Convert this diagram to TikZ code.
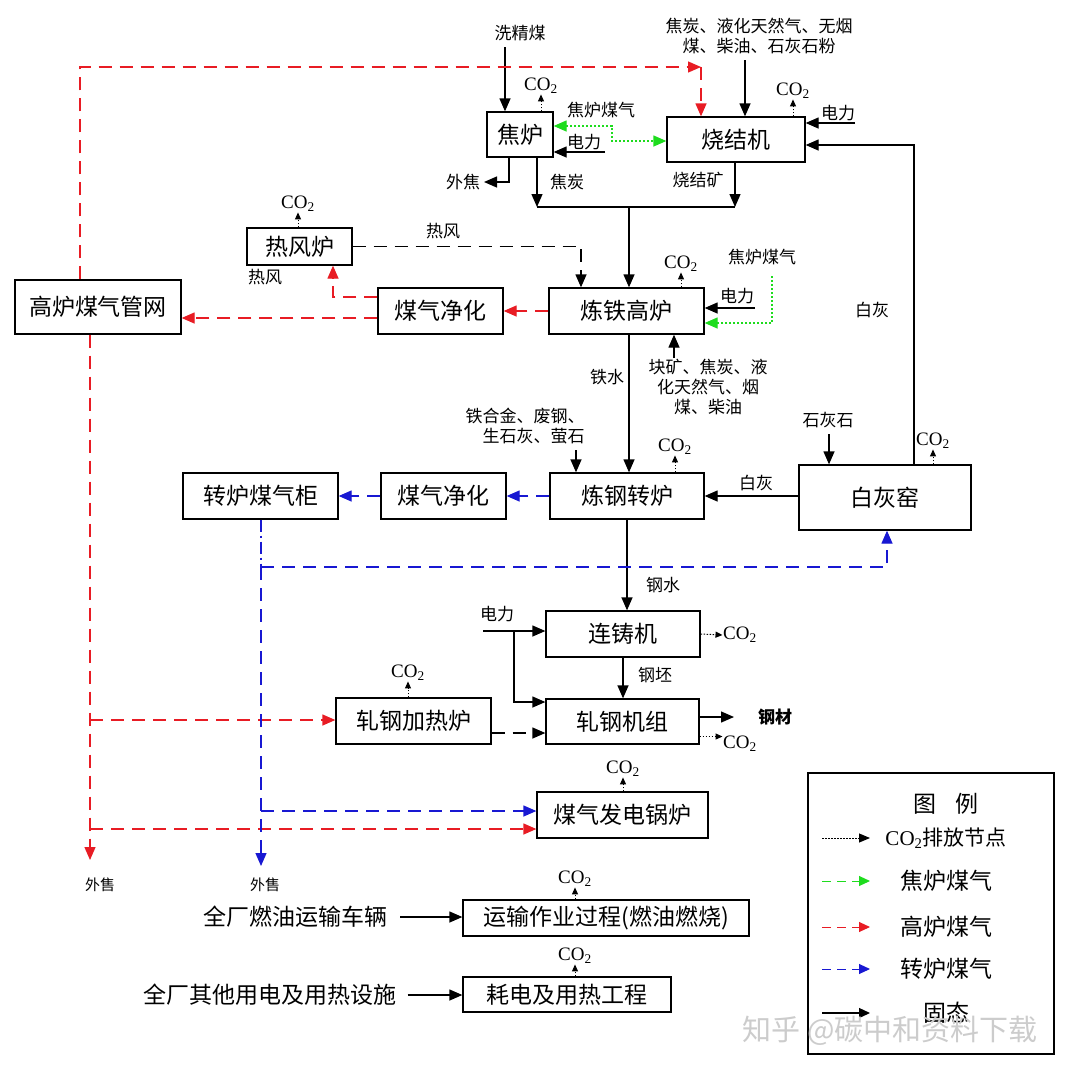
\documentclass[tikz,border=0pt]{standalone}
\usepackage{fontspec}
\setmainfont{Liberation Serif}
\newfontfamily\cjk{Noto Sans CJK SC}
\usetikzlibrary{arrows.meta}
\newcommand{\cotwo}{{\rmfamily CO\textsubscript{2}}}
\definecolor{gasred}{RGB}{232,28,36}
\definecolor{gasblue}{RGB}{24,24,210}
\definecolor{gasgreen}{RGB}{30,220,30}
\tikzset{
  box/.style={draw, line width=1.3pt, inner sep=0pt, font=\cjk\fontsize{23}{26}\selectfont},
  lbl/.style={inner sep=1pt, font=\cjk\fontsize{17}{20}\selectfont, align=center},
  big/.style={inner sep=1pt, font=\cjk\fontsize{23}{26}\selectfont},
  co/.style={inner sep=0.5pt, font=\fontsize{19}{21}\selectfont},
  ln/.style={line width=1.3pt},
  arr/.style={line width=1.3pt, -{Triangle[length=13pt,width=11pt]}},
  dblk/.style={line width=1.3pt, dash pattern=on 13pt off 8pt, -{Triangle[length=13pt,width=11pt]}},
  gasR/.style={line width=1.3pt, color=gasred, dash pattern=on 13pt off 8pt, -{Triangle[length=13pt,width=11pt]}},
  gasB/.style={line width=1.3pt, color=gasblue, dash pattern=on 13pt off 8pt, -{Triangle[length=13pt,width=11pt]}},
  gasG/.style={line width=1.3pt, color=gasgreen, dash pattern=on 2pt off 2pt, {Triangle[length=13pt,width=11pt]}-{Triangle[length=13pt,width=11pt]}},
  coarr/.style={line width=1pt, dash pattern=on 1.5pt off 1.5pt, -{Triangle[length=7pt,width=6pt]}},
}
\begin{document}
\begin{tikzpicture}[x=1pt,y=-1pt]
\useasboundingbox[fill=white] (0,0) rectangle (1080,1077);

% ---------- boxes ----------
\node[box,minimum width=66,minimum height=45] (jl) at (520,134.5) {焦炉};
\node[box,minimum width=138,minimum height=45] (sj) at (736,139.5) {烧结机};
\node[box,minimum width=105,minimum height=37] (rf) at (299.5,246.5) {热风炉};
\node[box,minimum width=166,minimum height=54] (gw) at (98,307) {高炉煤气管网};
\node[box,minimum width=125,minimum height=46] (jh1) at (440.5,311) {煤气净化};
\node[box,minimum width=155,minimum height=46] (gl) at (626.5,311) {炼铁高炉};
\node[box,minimum width=155,minimum height=46] (zg) at (260.5,496) {转炉煤气柜};
\node[box,minimum width=125,minimum height=46] (jh2) at (443.5,496) {煤气净化};
\node[box,minimum width=154,minimum height=46] (zl) at (627,496) {炼钢转炉};
\node[box,minimum width=172,minimum height=65] (bh) at (885,497.5) {白灰窑};
\node[box,minimum width=154,minimum height=46] (lz) at (623,634) {连铸机};
\node[box,minimum width=153,minimum height=45] (zj) at (622.5,721.5) {轧钢机组};
\node[box,minimum width=155,minimum height=46] (jr) at (413.5,721) {轧钢加热炉};
\node[box,minimum width=171,minimum height=46] (fd) at (622.5,815) {煤气发电锅炉};
\node[box,minimum width=286,minimum height=36] (ys) at (606,918) {运输作业过程(燃油燃烧)};
\node[box,minimum width=208,minimum height=35] (hd) at (567,994.5) {耗电及用热工程};

% ---------- labels ----------
\node[lbl] (t_xjm) at (520,33) {洗精煤};
\node[lbl] (t_top) at (759,36) {焦炭、液化天然气、无烟\\煤、柴油、石灰石粉};
\node[lbl] (t_jlmq1) at (601,110) {焦炉煤气};
\node[lbl] (t_dl1) at (584,142) {电力};
\node[lbl] (t_wj) at (463,182) {外焦};
\node[lbl] (t_jt) at (567,182) {焦炭};
\node[lbl] (t_sjk) at (698,180) {烧结矿};
\node[lbl] (t_dl2) at (838,113) {电力};
\node[lbl] (t_rf1) at (443,231) {热风};
\node[lbl] (t_rf2) at (265,277) {热风};
\node[lbl] (t_jlmq2) at (762,257) {焦炉煤气};
\node[lbl] (t_dl3) at (737,296) {电力};
\node[lbl] (t_bh1) at (872,310) {白灰};
\node[lbl] (t_kk) at (708,387) {块矿、焦炭、液\\化天然气、烟\\煤、柴油};
\node[lbl] (t_ts) at (607,377) {铁水};
\node[lbl,align=right] (t_thj) at (525,426) {铁合金、废钢、\\生石灰、萤石};
\node[lbl] (t_shs) at (828,420) {石灰石};
\node[lbl] (t_bh2) at (756,483) {白灰};
\node[lbl] (t_gs) at (663,585) {钢水};
\node[lbl] (t_dl4) at (497,614) {电力};
\node[lbl] (t_gp) at (655,675) {钢坯};
\node[lbl,font=\cjk\bfseries\fontsize{17}{20}\selectfont] (t_gc) at (775,717) {钢材};
\node[lbl,font=\cjk\fontsize{15}{18}\selectfont] (t_ws1) at (100,885) {外售};
\node[lbl,font=\cjk\fontsize{15}{18}\selectfont] (t_ws2) at (265,885) {外售};
\node[big] (t_qc1) at (295,917) {全厂燃油运输车辆};
\node[big] (t_qc2) at (270,995) {全厂其他用电及用热设施};

% ---------- CO2 labels ----------
\node[co] (c_jl) at (541,86) {\cotwo};
\node[co] (c_sj) at (793,91) {\cotwo};
\node[co] (c_rf) at (298,204) {\cotwo};
\node[co] (c_gl) at (681,264) {\cotwo};
\node[co] (c_zl) at (675,447) {\cotwo};
\node[co] (c_bh) at (933,441) {\cotwo};
\node[co] (c_lz) at (740,635) {\cotwo};
\node[co] (c_zj) at (740,744) {\cotwo};
\node[co] (c_jr) at (408,673) {\cotwo};
\node[co] (c_fd) at (623,769) {\cotwo};
\node[co] (c_ys) at (575,879) {\cotwo};
\node[co] (c_hd) at (575,956) {\cotwo};

\draw[coarr] (jl.north -| c_jl) -- (c_jl.south);
\draw[coarr] (sj.north -| c_sj) -- (c_sj.south);
\draw[coarr] (rf.north -| c_rf) -- (c_rf.south);
\draw[coarr] (gl.north -| c_gl) -- (c_gl.south);
\draw[coarr] (zl.north -| c_zl) -- (c_zl.south);
\draw[coarr] (bh.north -| c_bh) -- (c_bh.south);
\draw[coarr] (jr.north -| c_jr) -- (c_jr.south);
\draw[coarr] (fd.north -| c_fd) -- (c_fd.south);
\draw[coarr] (ys.north -| c_ys) -- (c_ys.south);
\draw[coarr] (hd.north -| c_hd) -- (c_hd.south);
\draw[coarr] (lz.east) -- (c_lz.west);
\coordinate (zjco) at ([yshift=-15pt]zj.east);
\draw[coarr] (zjco) -- (zjco -| c_zj.west);

% ---------- solid flows ----------
\coordinate (p_xjm) at (505,47);
\draw[arr] (p_xjm) -- (p_xjm |- jl.north);
\coordinate (p_dl1) at (605,152);
\draw[arr] (p_dl1) -- (p_dl1 -| jl.east);
\coordinate (p_wj1) at (509,182);
\coordinate (p_wj2) at (484,182);
\draw[arr] (p_wj1 |- jl.south) -- (p_wj1) -- (p_wj2);
\coordinate (p_jt) at (537,207);
\coordinate (p_sjk) at (735,207);
\draw[arr] (p_jt |- jl.south) -- (p_jt);
\draw[arr] (p_sjk |- sj.south) -- (p_sjk);
\draw[ln] (p_jt) -- (p_sjk);
\coordinate (p_mid) at (629,207);
\draw[arr] (p_mid) -- (p_mid |- gl.north);
\coordinate (p_top) at (745,60);
\draw[arr] (p_top) -- (p_top |- sj.north);
\coordinate (p_dl2) at (855,123);
\draw[arr] (p_dl2) -- (p_dl2 -| sj.east);
\coordinate (p_bh1) at (914,145);
\draw[arr] (p_bh1 |- bh.north) -- (p_bh1) -- (p_bh1 -| sj.east);
\coordinate (p_dl3) at (755,308);
\draw[arr] (p_dl3) -- (p_dl3 -| gl.east);
\coordinate (p_kk) at (674,358);
\draw[arr] (p_kk) -- (p_kk |- gl.south);
\draw[arr] (gl.south -| p_mid) -- (zl.north -| p_mid);
\coordinate (p_thj) at (576,450);
\draw[arr] (p_thj) -- (p_thj |- zl.north);
\coordinate (p_shs) at (829,434);
\draw[arr] (p_shs) -- (p_shs |- bh.north);
\draw[arr] (bh.west |- zl.east) -- (zl.east);
\draw[arr] (zl.south) -- (zl.south |- lz.north);
\coordinate (p_dl4) at (483,631);
\coordinate (p_dl5) at (514,631);
\coordinate (p_dl6) at (514,702);
\draw[arr] (p_dl4) -- (p_dl4 -| lz.west);
\draw[arr] (p_dl5) -- (p_dl6) -- (p_dl6 -| zj.west);
\draw[arr] (lz.south) -- (lz.south |- zj.north);
\coordinate (p_gc) at ([yshift=4.5pt]zj.east);
\coordinate (p_gc2) at (734,717);
\draw[arr] (p_gc) -- (p_gc2);
\draw[arr] ([xshift=12pt]t_qc1.east) -- (ys.west |- t_qc1.east);
\draw[arr] ([xshift=10pt]t_qc2.east) -- (hd.west |- t_qc2.east);

% ---------- black dashed (hot air) ----------
\coordinate (p_rf) at (581,246.5);
\draw[dblk] (rf.east) -- (p_rf) -- (p_rf |- gl.north);
\coordinate (p_jrzj) at ([yshift=-12pt]jr.east);
\draw[dblk] (p_jrzj) -- (p_jrzj -| zj.west);

% ---------- green (coke oven gas) ----------
\coordinate (g1) at (612,126);
\coordinate (g2) at (612,141);
\draw[gasG] (g1 -| jl.east) -- (g1) -- (g2) -- (g2 -| sj.west);
\coordinate (g3) at (772,276);
\coordinate (g4) at (772,323);
\draw[gasG,-{Triangle[length=13pt,width=11pt]}] (g3) -- (g4) -- (g4 -| gl.east);

% ---------- red (blast furnace gas) ----------
\coordinate (r1) at (80,67);
\coordinate (r2) at (701,67);
\draw[gasR] (r1 |- gw.north) -- (r1) -- (r2);
\draw[gasR] (r2) -- (r2 |- sj.north);
\draw[gasR] (gl.west) -- (jh1.east);
\coordinate (r3) at (333,297);
\draw[gasR] (r3 -| jh1.west) -- (r3) -- (r3 |- rf.south);
\coordinate (r4) at ([yshift=-7pt]jh1.west);
\draw[gasR] (r4) -- (r4 -| gw.east);
\coordinate (r5) at (90,860);
\draw[gasR] (r5 |- gw.south) -- (r5);
\coordinate (r6) at (90,720);
\draw[gasR] (r6) -- (r6 -| jr.west);
\coordinate (r7) at (90,829);
\draw[gasR] (r7) -- (r7 -| fd.west);

% ---------- blue (converter gas) ----------
\draw[gasB] (zl.west) -- (jh2.east);
\draw[gasB] (jh2.west) -- (zg.east);
\coordinate (b1) at (261,567);
\coordinate (b2) at (887,567);
\coordinate (b3) at (261,866);
\coordinate (b4) at (261,811);
\draw[gasB,-,dash pattern=on 12pt off 4pt on 2pt off 4pt] (b1 |- zg.south) -- (b1);
\draw[gasB] (b1) -- (b2) -- (b2 |- bh.south);
\draw[gasB] (b1) -- (b3);
\draw[gasB] (b4) -- (b4 -| fd.west);

% ---------- legend ----------
\node[draw,line width=1.3pt,minimum width=246,minimum height=281,inner sep=0pt] (lg) at (931,913.5) {};
\node[big] (lg_t) at (946,804) {图\hspace{0.8em}例};
\node[inner sep=1pt,font=\fontsize{21}{24}\selectfont] (lg_1) at (946,838) {CO\textsubscript{2}{\cjk 排放节点}};
\node[big] (lg_2) at (946,881) {焦炉煤气};
\node[big] (lg_3) at (946,927) {高炉煤气};
\node[big] (lg_4) at (946,969) {转炉煤气};
\node[big] (lg_5) at (946,1013) {固态};
\coordinate (la1) at (822,838); \coordinate (lb1) at (870,838);
\coordinate (la2) at (822,881); \coordinate (lb2) at (870,881);
\coordinate (la3) at (822,927); \coordinate (lb3) at (870,927);
\coordinate (la4) at (822,969); \coordinate (lb4) at (870,969);
\coordinate (la5) at (822,1013); \coordinate (lb5) at (870,1013);
\draw[line width=1pt, dash pattern=on 1.5pt off 1.5pt, -{Triangle[length=11pt,width=9pt]}] (la1) -- (lb1);
\draw[line width=1pt, color=gasgreen, dash pattern=on 9pt off 6pt, -{Triangle[length=11pt,width=10pt]}] (la2) -- (lb2);
\draw[line width=1pt, color=gasred, dash pattern=on 9pt off 6pt, -{Triangle[length=11pt,width=10pt]}] (la3) -- (lb3);
\draw[line width=1pt, color=gasblue, dash pattern=on 9pt off 6pt, -{Triangle[length=11pt,width=10pt]}] (la4) -- (lb4);
\draw[line width=1.3pt, -{Triangle[length=11pt,width=10pt]}] (la5) -- (lb5);

% ---------- watermark ----------
\node[inner sep=0pt,text=gray!40,font=\cjk\fontsize{29}{32}\selectfont] (wm) at (890,1031) {知乎 @碳中和资料下载};
\end{tikzpicture}
\end{document}
